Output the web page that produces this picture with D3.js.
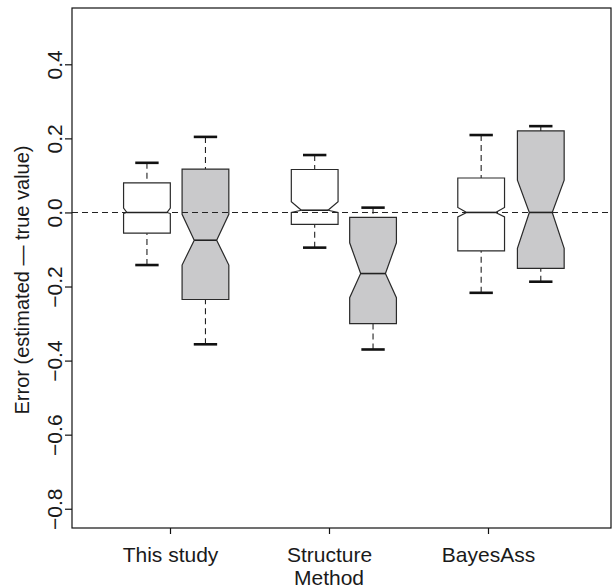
<!DOCTYPE html>
<html>
<head>
<meta charset="utf-8">
<script src="https://cdn.jsdelivr.net/npm/d3@7"></script>
<style>
  body { margin: 0; background: #fff; }
  svg text { font-family: "Liberation Sans", Arial, Helvetica, sans-serif; fill: #1a1a1a; }
</style>
</head>
<body>
<div id="graph"></div>
<script>
(function() {
    // categories and y ticks
    const methods = ["This study", "Structure", "BayesAss"];
    const yTicks = [-0.8, -0.6, -0.4, -0.2, 0.0, 0.2, 0.4];

    // one entry per box: white / grey pairs for each method
    const boxSeries = ["a", "b", "a", "b", "a", "b"];
    const boxPos    = [0.855, 1.223, 1.910, 2.277, 2.957, 3.332];
    const whiskerLo = [-0.142, -0.356, -0.095, -0.370, -0.217, -0.187];
    const q1        = [-0.056, -0.235, -0.032, -0.300, -0.104, -0.151];
    const notchLo   = [-0.003, -0.142,  0.000, -0.230, -0.012, -0.097];
    const median    = [ 0.000, -0.075,  0.006, -0.165,  0.000,  0.000];
    const notchHi   = [ 0.012, -0.005,  0.029, -0.082,  0.0135, 0.087];
    const q3        = [ 0.080,  0.117,  0.116, -0.0135, 0.093,  0.220];
    const whiskerHi = [ 0.134,  0.204,  0.155,  0.013,  0.209,  0.233];
    const notchDepth = [0.14, 0.52, 0.43, 0.47, 0.38, 0.51];

    const width = 612, height = 588;
    const plot = {left: 72, right: 611, top: 8, bottom: 528};

    const svg = d3.select("#graph").append("svg")
      .attr("width", width)
      .attr("height", height);

    const x = d3.scaleLinear().domain([1, 3]).range([170, 488]);
    const y = d3.scaleLinear().domain([-0.852, 0.552]).range([plot.bottom, plot.top]);
    const fill = d3.scaleOrdinal().domain(["a", "b"]).range(["#ffffff", "#c9c9cb"]);

    const boxW = 0.294; // in x units
    const fmt = d3.format(".1f");

    const boxes = boxPos.map((p, i) => ({
        pos: p, series: boxSeries[i],
        lo: whiskerLo[i], q1: q1[i], nlo: notchLo[i], med: median[i],
        nhi: notchHi[i], q3: q3[i], hi: whiskerHi[i], depth: notchDepth[i]
    }));

    const g = svg.append("g");

    // whiskers
    g.selectAll(".whisker")
      .data(boxes.flatMap(d => [[d.pos, d.lo, d.q1], [d.pos, d.hi, d.q3]]))
      .enter().append("line")
        .attr("class", "whisker")
        .attr("x1", d => x(d[0])).attr("x2", d => x(d[0]))
        .attr("y1", d => y(d[1])).attr("y2", d => y(d[2]))
        .attr("stroke", "#222")
        .attr("stroke-width", 1.1)
        .attr("stroke-dasharray", "6,4");

    // caps
    g.selectAll(".cap")
      .data(boxes.flatMap(d => [[d.pos, d.lo], [d.pos, d.hi]]))
      .enter().append("line")
        .attr("class", "cap")
        .attr("x1", d => x(d[0] - boxW / 4)).attr("x2", d => x(d[0] + boxW / 4))
        .attr("y1", d => y(d[1])).attr("y2", d => y(d[1]))
        .attr("stroke", "#111")
        .attr("stroke-width", 2.6);

    // notched boxes
    const boxPath = d => {
        const w = boxW / 2, n = w * (1 - d.depth);
        const pts = [
            [d.pos - w, d.q1], [d.pos - w, d.nlo], [d.pos - n, d.med], [d.pos - w, d.nhi],
            [d.pos - w, d.q3], [d.pos + w, d.q3], [d.pos + w, d.nhi], [d.pos + n, d.med],
            [d.pos + w, d.nlo], [d.pos + w, d.q1]
        ];
        return d3.line().x(p => x(p[0])).y(p => y(p[1]))(pts) + "Z";
    };

    g.selectAll(".box")
      .data(boxes)
      .enter().append("path")
        .attr("class", "box")
        .attr("d", boxPath)
        .attr("fill", d => fill(d.series))
        .attr("stroke", "#2a2a2a")
        .attr("stroke-width", 1.2)
        .attr("stroke-linejoin", "miter");

    g.selectAll(".median")
      .data(boxes)
      .enter().append("line")
        .attr("class", "median")
        .attr("x1", d => x(d.pos - boxW / 2 * (1 - d.depth)))
        .attr("x2", d => x(d.pos + boxW / 2 * (1 - d.depth)))
        .attr("y1", d => y(d.med)).attr("y2", d => y(d.med))
        .attr("stroke", "#222")
        .attr("stroke-width", 1.6);

    // zero reference line
    svg.append("line")
      .attr("x1", plot.left).attr("x2", plot.right)
      .attr("y1", y(0)).attr("y2", y(0))
      .attr("stroke", "#222")
      .attr("stroke-width", 1.1)
      .attr("stroke-dasharray", "6,4");

    // frame
    svg.append("rect")
      .attr("x", plot.left).attr("y", plot.top)
      .attr("width", plot.right - plot.left)
      .attr("height", plot.bottom - plot.top)
      .attr("fill", "none")
      .attr("stroke", "#111")
      .attr("stroke-width", 1.2);

    // y axis
    const yAxis = svg.append("g")
      .attr("transform", `translate(${plot.left},0)`)
      .call(d3.axisLeft(y).tickValues(yTicks).tickSize(7).tickFormat(fmt));
    yAxis.select(".domain").remove();
    yAxis.selectAll(".tick line").attr("stroke", "#111").attr("stroke-width", 1.2);
    yAxis.selectAll(".tick text")
      .attr("x", 0).attr("y", 0).attr("dy", 0)
      .attr("transform", "translate(-10.5,0) rotate(-90)")
      .attr("text-anchor", "middle")
      .style("font-size", "21px")
      .style("font-family", "Liberation Sans, Arial, sans-serif")
      .attr("fill", "#1a1a1a");

    // x axis
    const xAxis = svg.append("g")
      .attr("transform", `translate(0,${plot.bottom})`)
      .call(d3.axisBottom(x).tickValues([1, 2, 3]).tickSize(6)
        .tickFormat((d, i) => methods[i]));
    xAxis.select(".domain").remove();
    xAxis.selectAll(".tick line").attr("stroke", "#111").attr("stroke-width", 1.2);
    xAxis.selectAll(".tick text")
      .attr("y", 0).attr("dy", 0)
      .attr("transform", "translate(0,33.5)")
      .style("font-size", "21px")
      .style("font-family", "Liberation Sans, Arial, sans-serif")
      .attr("fill", "#1a1a1a");

    // axis titles
    svg.append("text")
      .attr("x", x(2)).attr("y", 585)
      .attr("text-anchor", "middle")
      .style("font-size", "21px")
      .text("Method");

    svg.append("text")
      .attr("transform", `translate(29,${(plot.top + plot.bottom) / 2 + 12}) rotate(-90)`)
      .attr("text-anchor", "middle")
      .style("font-size", "20px")
      .text("Error (estimated \u2014 true value)");
})()
</script>
</body>
</html>
